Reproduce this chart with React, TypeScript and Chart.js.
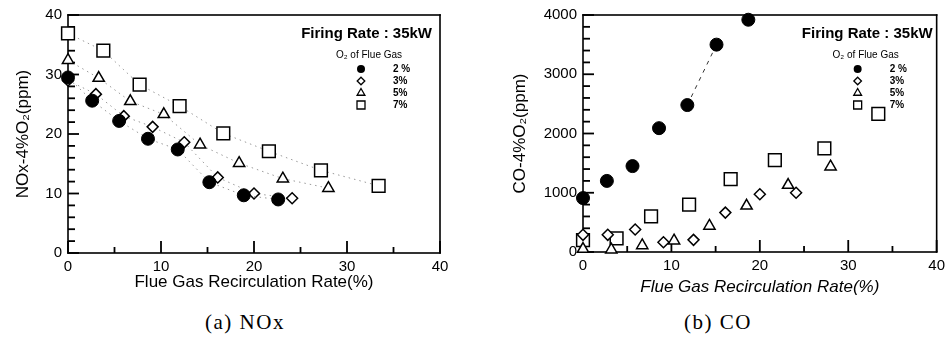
import React, { useEffect, useRef } from 'react';
import { Chart, registerables } from 'chart.js';

Chart.register(...registerables);

// ---------------- data ----------------
const o2Labels = ['2 %', '3%', '5%', '7%'];
const legendTitle = 'O₂ of Flue Gas';
const firingText = 'Firing Rate : 35kW';
const xTitle = 'Flue Gas Recirculation Rate(%)';
const noxTitle = 'NOx-4%O₂(ppm)';
const coTitle = 'CO-4%O₂(ppm)';
const captionA = '(a) NOx';
const captionB = '(b) CO';

// NOx chart
const noxX2 = [0, 2.6, 5.5, 8.6, 11.8, 15.2, 18.9, 22.6];
const noxY2 = [29.5, 25.6, 22.2, 19.2, 17.4, 11.9, 9.7, 9.0];
const noxX3 = [0, 3.0, 6.0, 9.1, 12.5, 16.1, 20.0, 24.1];
const noxY3 = [29.0, 26.7, 23.0, 21.2, 18.6, 12.7, 10.0, 9.2];
const noxX5 = [0, 3.3, 6.7, 10.3, 14.2, 18.4, 23.1, 28.0];
const noxY5 = [32.4, 29.4, 25.5, 23.3, 18.2, 15.1, 12.5, 10.9];
const noxX7 = [0, 3.8, 7.7, 12.0, 16.7, 21.6, 27.2, 33.4];
const noxY7 = [36.9, 34.0, 28.3, 24.7, 20.1, 17.1, 13.9, 11.3];

// CO chart
const coX2 = [0, 2.7, 5.6, 8.6, 11.8, 15.1, 18.7];
const coY2 = [910, 1200, 1450, 2090, 2480, 3500, 3920];
const coX3 = [0, 2.8, 5.9, 9.1, 12.5, 16.1, 20.0, 24.1];
const coY3 = [290, 290, 380, 165, 205, 665, 975, 1000];
const coX5 = [0, 3.2, 6.7, 10.3, 14.3, 18.5, 23.2, 28.0];
const coY5 = [50, 40, 110, 190, 440, 780, 1130, 1440];
const coX7 = [0, 3.8, 7.7, 12.0, 16.7, 21.7, 27.3, 33.4];
const coY7 = [200, 230, 600, 800, 1230, 1550, 1750, 2330];

const xMin = 0, xMax = 40, xStep = 10, xMinorStep = 5;
const noxMin = 0, noxMax = 40, noxStep = 10, noxMinorStep = 2;
const coMin = 0, coMax = 4000, coStep = 1000, coMinorStep = 200;

// ---------------- helpers ----------------
const FONT = "'Liberation Sans', Arial, Helvetica, sans-serif";

const pts = (xs: number[], ys: number[]) => xs.map((x, i) => ({ x, y: ys[i] }));

type MarkerKind = 'circle' | 'rectRot' | 'triangle' | 'rect';
const markerKinds: MarkerKind[] = ['circle', 'rectRot', 'triangle', 'rect'];
const markerRadius = [6.5, 5.5, 6.5, 9];

function drawMarker(ctx: CanvasRenderingContext2D, kind: MarkerKind, x: number, y: number, r: number) {
  ctx.setLineDash([]);
  ctx.beginPath();
  if (kind === 'circle') {
    ctx.arc(x, y, r, 0, Math.PI * 2);
    ctx.fillStyle = '#000';
    ctx.fill();
    return;
  }
  if (kind === 'rectRot') {
    ctx.moveTo(x, y - r); ctx.lineTo(x + r, y); ctx.lineTo(x, y + r); ctx.lineTo(x - r, y); ctx.closePath();
  } else if (kind === 'triangle') {
    ctx.moveTo(x, y - r); ctx.lineTo(x + r * 0.866, y + r * 0.5); ctx.lineTo(x - r * 0.866, y + r * 0.5); ctx.closePath();
  } else {
    ctx.rect(x - r, y - r, 2 * r, 2 * r);
  }
  ctx.fillStyle = '#fff';
  ctx.fill();
  ctx.strokeStyle = '#000';
  ctx.lineWidth = 1.3;
  ctx.stroke();
}

interface FrameCfg {
  id: string;
  yMin: number;
  yMax: number;
  yMinor: number;
  yMajor: number;
  firingInset: number;
}

function makeFrame(cfg: FrameCfg) {
  const yVals: number[] = [];
  const nY = Math.round((cfg.yMax - cfg.yMin) / cfg.yMinor);
  for (let k = 0; k <= nY; k++) yVals.push(cfg.yMin + k * cfg.yMinor);
  const xVals: number[] = [];
  const nX = Math.round((xMax - xMin) / xMinorStep);
  for (let k = 0; k <= nX; k++) xVals.push(xMin + k * xMinorStep);
  const isMajor = (v: number, step: number) => Math.abs(v / step - Math.round(v / step)) < 1e-6;

  return {
    id: cfg.id,
    beforeDatasetsDraw(chart: any) {
      const { ctx, chartArea: a } = chart;
      const xs = chart.scales.x, ys = chart.scales.y;
      ctx.save();
      ctx.fillStyle = '#000';
      // frame box
      const bw = 1.6;
      ctx.fillRect(a.left - bw / 2, a.top - bw / 2, a.right - a.left + bw, bw);
      ctx.fillRect(a.left - bw / 2, a.bottom - bw / 2, a.right - a.left + bw, bw);
      ctx.fillRect(a.left - bw / 2, a.top - bw / 2, bw, a.bottom - a.top + bw);
      ctx.fillRect(a.right - bw / 2, a.top - bw / 2, bw, a.bottom - a.top + bw);
      // inward ticks
      yVals.forEach((v) => {
        const p = ys.getPixelForValue(v);
        const len = isMajor(v, cfg.yMajor) ? 11 : 7;
        ctx.fillRect(a.left, p - 0.9, len, 1.8);
      });
      xVals.forEach((v) => {
        const p = xs.getPixelForValue(v);
        const len = isMajor(v, xStep) ? 12 : 6;
        ctx.fillRect(p - 0.9, a.bottom - len, 1.8, len);
      });
      ctx.restore();
    },
    afterDatasetsDraw(chart: any) {
      const { ctx, chartArea: a } = chart;
      ctx.save();
      ctx.fillStyle = '#000';
      ctx.font = `bold 15px ${FONT}`;
      ctx.textAlign = 'right';
      ctx.textBaseline = 'middle';
      ctx.fillText(firingText, a.right - cfg.firingInset, a.top + 19);
      ctx.font = `10px ${FONT}`;
      ctx.textAlign = 'center';
      ctx.fillText(legendTitle, a.right - 71, a.top + 40);
      o2Labels.forEach((lab, i) => {
        const y = a.top + 54 + 12 * i;
        const r = [4, 3.8, 4.5, 4][i];
        drawMarker(ctx, markerKinds[i], a.right - 79, y, r);
        ctx.fillStyle = '#000';
        ctx.font = `bold 10px ${FONT}`;
        ctx.textAlign = 'left';
        ctx.textBaseline = 'middle';
        ctx.fillText(lab, a.right - 47, y);
      });
      ctx.restore();
    },
  };
}

function seriesDataset(i: number, data: { x: number; y: number }[], showLine: boolean) {
  const filled = i === 0;
  return {
    data,
    pointStyle: markerKinds[i],
    pointRadius: markerRadius[i],
    pointHoverRadius: markerRadius[i],
    pointBackgroundColor: filled ? '#000' : '#fff',
    pointBorderColor: '#000',
    pointBorderWidth: filled ? 1 : 1.5,
    showLine,
    borderColor: '#9a9a9a',
    borderWidth: 1,
    borderDash: [1.5, 4],
    clip: false as any,
  };
}

function makeOptions(opts: {
  yMin: number; yMax: number; yStep: number; yTitle: string; yTitlePad: number;
  yWidth: number; xHeight: number; xTitlePad: number; italicX: boolean; padRight: number;
}) {
  return {
    responsive: false,
    animation: false as const,
    layout: { padding: { left: 0, top: 13, right: opts.padRight, bottom: 0 } },
    plugins: { legend: { display: false }, tooltip: { enabled: false } },
    scales: {
      x: {
        type: 'linear' as const,
        min: xMin, max: xMax,
        grid: { display: false, drawTicks: false },
        border: { display: false },
        ticks: {
          stepSize: xStep, padding: 5, color: '#000',
          font: { family: FONT, size: 15 },
          callback: (v: any) => String(v),
        },
        title: {
          display: true, text: xTitle, color: '#000',
          font: { family: FONT, size: 17, style: opts.italicX ? 'italic' : 'normal' },
          padding: { top: 0, bottom: opts.xTitlePad },
        },
        afterFit: (s: any) => { s.height = opts.xHeight; },
      },
      y: {
        type: 'linear' as const,
        min: opts.yMin, max: opts.yMax,
        grid: { display: false, drawTicks: false },
        border: { display: false },
        ticks: {
          stepSize: opts.yStep, padding: 6, color: '#000',
          font: { family: FONT, size: 15 },
          callback: (v: any) => String(v),
        },
        title: {
          display: true, text: opts.yTitle, color: '#000',
          font: { family: FONT, size: 17 },
          padding: { top: opts.yTitlePad, bottom: 0 },
        },
        afterFit: (s: any) => { s.width = opts.yWidth; },
      },
    },
  };
}

function NoxChart() {
  const ref = useRef<HTMLCanvasElement>(null);
  useEffect(() => {
    if (!ref.current) return;
    const chart = new Chart(ref.current, {
      type: 'scatter',
      data: {
        datasets: [
          seriesDataset(0, pts(noxX2, noxY2), true),
          seriesDataset(1, pts(noxX3, noxY3), true),
          seriesDataset(2, pts(noxX5, noxY5), true),
          seriesDataset(3, pts(noxX7, noxY7), true),
        ] as any,
      },
      options: makeOptions({
        yMin: noxMin, yMax: noxMax, yStep: noxStep, yTitle: noxTitle, yTitlePad: 13,
        yWidth: 68, xHeight: 47, xTitlePad: 7, italicX: false, padRight: 30,
      }) as any,
      plugins: [makeFrame({ id: 'frameNox', yMin: noxMin, yMax: noxMax, yMinor: noxMinorStep, yMajor: noxStep, firingInset: 8 })],
    });
    return () => chart.destroy();
  }, []);
  return <canvas ref={ref} width={470} height={300} style={{ position: 'absolute', left: 0, top: 0 }} />;
}

function CoChart() {
  const ref = useRef<HTMLCanvasElement>(null);
  useEffect(() => {
    if (!ref.current) return;
    const seg = [{ x: coX2[4], y: coY2[4] }, { x: coX2[5], y: coY2[5] }];
    const chart = new Chart(ref.current, {
      type: 'scatter',
      data: {
        datasets: [
          seriesDataset(0, pts(coX2, coY2), false),
          seriesDataset(1, pts(coX3, coY3), false),
          seriesDataset(2, pts(coX5, coY5), false),
          seriesDataset(3, pts(coX7, coY7), false),
          {
            data: seg, showLine: true, pointRadius: 0, borderColor: '#333',
            borderWidth: 1, borderDash: [4, 5], clip: false,
          },
        ] as any,
      },
      options: makeOptions({
        yMin: coMin, yMax: coMax, yStep: coStep, yTitle: coTitle, yTitlePad: 40,
        yWidth: 113, xHeight: 48, xTitlePad: 3, italicX: true, padRight: 11,
      }) as any,
      plugins: [makeFrame({ id: 'frameCo', yMin: coMin, yMax: coMax, yMinor: coMinorStep, yMajor: coStep, firingInset: 4 })],
    });
    return () => chart.destroy();
  }, []);
  return <canvas ref={ref} width={480} height={300} style={{ position: 'absolute', left: 470, top: 0 }} />;
}

export default function App() {
  const capStyle: React.CSSProperties = {
    position: 'absolute', top: 309, height: 26, lineHeight: '26px', textAlign: 'center',
    fontFamily: "'Liberation Serif', 'DejaVu Serif', serif", fontSize: 21, letterSpacing: 1.5, color: '#000',
  };
  return (
    <div style={{ position: 'fixed', left: 0, top: 0, width: 950, height: 350, background: '#fff', overflow: 'hidden' }}>
      <NoxChart />
      <CoChart />
      <div style={{ ...capStyle, left: 0, width: 490 }}>{captionA}</div>
      <div style={{ ...capStyle, left: 470, width: 496 }}>{captionB}</div>
    </div>
  );
}
